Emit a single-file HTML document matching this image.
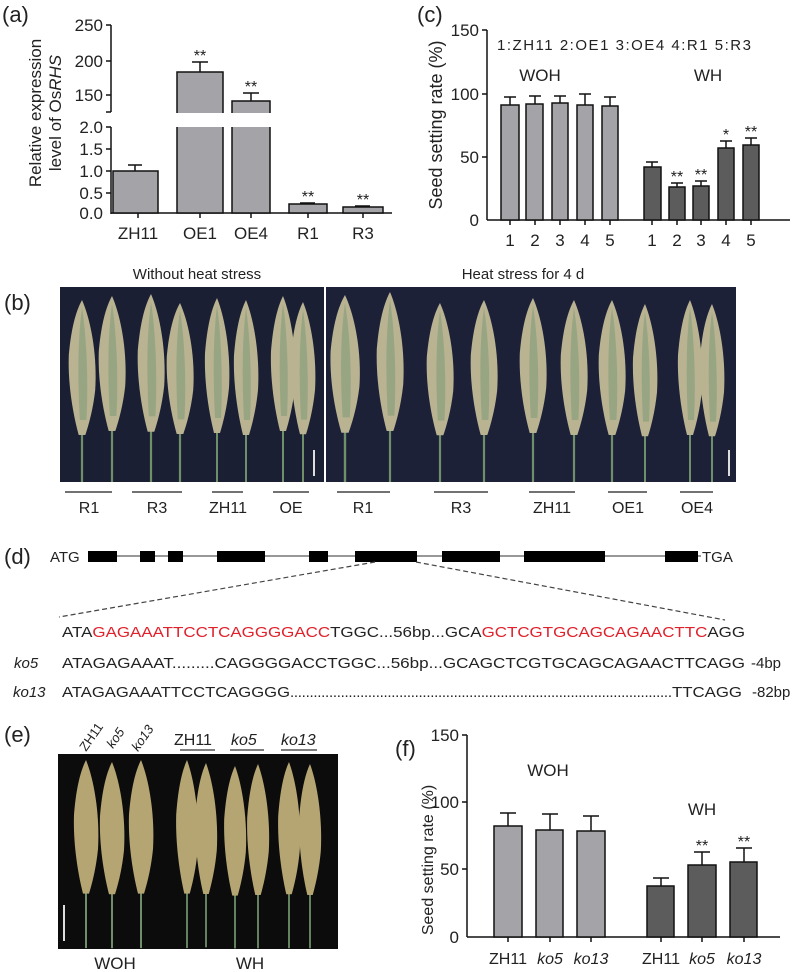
<!DOCTYPE html>
<html><head><meta charset="utf-8"><style>
html,body{margin:0;padding:0;background:#fff}
svg{display:block}
text{font-family:"Liberation Sans",Arial,sans-serif;fill:#222}
</style></head><body>
<svg width="800" height="972" viewBox="0 0 800 972" xmlns="http://www.w3.org/2000/svg">
<defs>
<g id="pan2">
<line x1="0" y1="110" x2="0" y2="190" stroke="#6f8f6a" stroke-width="2"/>
<path d="M0,0 C8,20 14,55 12,90 C10,110 6,125 3,135 L-3,135 C-8,115 -13,85 -12,55 C-10,30 -6,12 0,0Z" fill="#b5a572"/>
</g>
<g id="pan3">
<line x1="0" y1="100" x2="0" y2="200" stroke="#6f8f6a" stroke-width="2"/>
<path d="M0,0 C8,20 14,55 12,90 C10,110 6,125 3,135 L-3,135 C-8,115 -13,85 -12,55 C-10,30 -6,12 0,0Z" fill="#b9b392"/>
<path d="M0,8 C4,35 6,80 4,120 L-2,120 C-4,80 -4,40 0,8Z" fill="#98a583"/>
</g>
</defs>

<!-- Panel (a) -->
<text x="2" y="22" font-size="22">(a)</text>
<g stroke="#111" stroke-width="1.5" fill="none">
<line x1="111" y1="25" x2="111" y2="112"/>
<line x1="111" y1="127" x2="111" y2="214"/>
<line x1="111" y1="213" x2="392" y2="213"/>
<line x1="106" y1="25" x2="111" y2="25"/><line x1="106" y1="61" x2="111" y2="61"/><line x1="106" y1="95" x2="111" y2="95"/><line x1="106" y1="112" x2="111" y2="112"/>
<line x1="106" y1="127" x2="111" y2="127"/><line x1="106" y1="149" x2="111" y2="149"/><line x1="106" y1="171" x2="111" y2="171"/><line x1="106" y1="193" x2="111" y2="193"/>
<line x1="138" y1="213" x2="138" y2="218"/><line x1="200" y1="213" x2="200" y2="218"/><line x1="251" y1="213" x2="251" y2="218"/><line x1="308" y1="213" x2="308" y2="218"/><line x1="363" y1="213" x2="363" y2="218"/>
</g>
<g fill="#a4a4a8" stroke="#111" stroke-width="1.5">
<rect x="113" y="171" width="45" height="42"/>
<rect x="177" y="72" width="46" height="141"/>
<rect x="232" y="101" width="38" height="112"/>
<rect x="289" y="204" width="38" height="9"/>
<rect x="343" y="207" width="40" height="6"/>
</g>
<rect x="170" y="113" width="110" height="14" fill="#fff"/>
<g stroke="#111" stroke-width="1.5">
<line x1="135" y1="171" x2="135" y2="165"/><line x1="128" y1="165" x2="142" y2="165"/>
<line x1="200" y1="72" x2="200" y2="62"/><line x1="192" y1="62" x2="208" y2="62"/>
<line x1="251" y1="101" x2="251" y2="93"/><line x1="243" y1="93" x2="259" y2="93"/>
<line x1="300" y1="203" x2="315" y2="203"/><line x1="355" y1="206" x2="370" y2="206"/>
</g>
<g font-size="16" text-anchor="middle">
<text x="200" y="61" fill="#777">**</text><text x="251" y="92" fill="#777">**</text><text x="308" y="202" fill="#777">**</text><text x="363" y="205" fill="#777">**</text>
</g>
<g font-size="17" text-anchor="end">
<text x="103" y="31">250</text><text x="103" y="67">200</text><text x="103" y="101">150</text>
<text x="103" y="133">2.0</text><text x="103" y="155">1.5</text><text x="103" y="177">1.0</text><text x="103" y="199">0.5</text><text x="103" y="219">0.0</text>
</g>
<g font-size="17" text-anchor="middle">
<text x="138" y="239">ZH11</text><text x="200" y="239">OE1</text><text x="251" y="239">OE4</text><text x="308" y="239">R1</text><text x="363" y="239">R3</text>
</g>
<text transform="translate(41,113) rotate(-90)" font-size="17" text-anchor="middle">Relative  expression</text>
<text transform="translate(61,113) rotate(-90)" font-size="17" text-anchor="middle">level of Os<tspan font-style="italic">RHS</tspan></text>

<!-- Panel (c) -->
<text x="417" y="22" font-size="22">(c)</text>
<g stroke="#111" stroke-width="1.5">
<line x1="487" y1="30" x2="487" y2="220"/>
<line x1="487" y1="220" x2="790" y2="220"/>
<line x1="482" y1="30" x2="487" y2="30"/><line x1="482" y1="94" x2="487" y2="94"/><line x1="482" y1="157" x2="487" y2="157"/>
<line x1="510" y1="220" x2="510" y2="225"/><line x1="535" y1="220" x2="535" y2="225"/><line x1="560" y1="220" x2="560" y2="225"/><line x1="585" y1="220" x2="585" y2="225"/><line x1="610" y1="220" x2="610" y2="225"/>
<line x1="652" y1="220" x2="652" y2="225"/><line x1="677" y1="220" x2="677" y2="225"/><line x1="701" y1="220" x2="701" y2="225"/><line x1="726" y1="220" x2="726" y2="225"/><line x1="751" y1="220" x2="751" y2="225"/>
</g>
<g fill="#a4a4a8" stroke="#111" stroke-width="1.5">
<rect x="501" y="105" width="18" height="115"/><rect x="526" y="104" width="17" height="116"/><rect x="552" y="103" width="16" height="117"/><rect x="577" y="105" width="16" height="115"/><rect x="602" y="106" width="16" height="114"/>
</g>
<g fill="#5c5c5c" stroke="#111" stroke-width="1.5">
<rect x="644" y="167" width="17" height="53"/><rect x="669" y="187" width="16" height="33"/><rect x="693" y="186" width="16" height="34"/><rect x="718" y="148" width="16" height="72"/><rect x="743" y="145" width="16" height="75"/>
</g>
<g stroke="#111" stroke-width="1.5">
<line x1="510" y1="105" x2="510" y2="97"/><line x1="504" y1="97" x2="516" y2="97"/>
<line x1="535" y1="104" x2="535" y2="96"/><line x1="529" y1="96" x2="541" y2="96"/>
<line x1="560" y1="103" x2="560" y2="96"/><line x1="554" y1="96" x2="566" y2="96"/>
<line x1="585" y1="105" x2="585" y2="94"/><line x1="579" y1="94" x2="591" y2="94"/>
<line x1="610" y1="106" x2="610" y2="97"/><line x1="604" y1="97" x2="616" y2="97"/>
<line x1="652" y1="167" x2="652" y2="162"/><line x1="646" y1="162" x2="658" y2="162"/>
<line x1="677" y1="187" x2="677" y2="183"/><line x1="671" y1="183" x2="683" y2="183"/>
<line x1="701" y1="186" x2="701" y2="181"/><line x1="695" y1="181" x2="707" y2="181"/>
<line x1="726" y1="148" x2="726" y2="141"/><line x1="720" y1="141" x2="732" y2="141"/>
<line x1="751" y1="145" x2="751" y2="138"/><line x1="745" y1="138" x2="757" y2="138"/>
</g>
<g font-size="16" text-anchor="middle">
<text x="677" y="182" fill="#777">**</text><text x="701" y="180" fill="#777">**</text><text x="726" y="140" fill="#777">*</text><text x="751" y="137" fill="#777">**</text>
</g>
<g font-size="17" text-anchor="end">
<text x="479" y="36">150</text><text x="479" y="100">100</text><text x="479" y="163">50</text><text x="479" y="226">0</text>
</g>
<g font-size="17" text-anchor="middle">
<text x="510" y="246">1</text><text x="535" y="246">2</text><text x="560" y="246">3</text><text x="585" y="246">4</text><text x="610" y="246">5</text>
<text x="652" y="246">1</text><text x="677" y="246">2</text><text x="701" y="246">3</text><text x="726" y="246">4</text><text x="751" y="246">5</text>
</g>
<text x="497" y="50" font-size="15" textLength="254">1:ZH11  2:OE1  3:OE4  4:R1  5:R3</text>
<text x="540" y="81" font-size="17" text-anchor="middle">WOH</text>
<text x="708" y="81" font-size="17" text-anchor="middle">WH</text>
<text transform="translate(442,125) rotate(-90)" font-size="18" text-anchor="middle">Seed setting rate (%)</text>

<!-- Panel (b) -->
<text x="4" y="310" font-size="22">(b)</text>
<text x="197" y="279" font-size="15" text-anchor="middle">Without heat stress</text>
<text x="523" y="279" font-size="15" text-anchor="middle">Heat stress for 4 d</text>
<rect x="60" y="287" width="264" height="195" fill="#1b1f33"/>
<rect x="326" y="287" width="410" height="195" fill="#1c2138"/>
<rect x="324" y="287" width="2" height="195" fill="#fff"/>
<svg x="60" y="287" width="676" height="195" viewBox="60 287 676 195" overflow="hidden">
<use href="#pan3" transform="translate(82,300) scale(1.1,1)"/>
<use href="#pan3" transform="translate(112,296) scale(1.1,1)"/>
<use href="#pan3" transform="translate(151,294) scale(1.1,1.02)"/>
<use href="#pan3" transform="translate(180,303) scale(1.1,0.97)"/>
<use href="#pan3" transform="translate(217,298) scale(1,1)"/>
<use href="#pan3" transform="translate(246,300) scale(1,1)"/>
<use href="#pan3" transform="translate(283,296) scale(1,1)"/>
<use href="#pan3" transform="translate(303,302) scale(1,0.98)"/>
<use href="#pan3" transform="translate(345,295) scale(1.2,1.02)"/>
<use href="#pan3" transform="translate(390,292) scale(1.1,1.03)"/>
<use href="#pan3" transform="translate(440,303) scale(1.1,0.98)"/>
<use href="#pan3" transform="translate(484,300) scale(1.1,1)"/>
<use href="#pan3" transform="translate(533,298) scale(1.1,1)"/>
<use href="#pan3" transform="translate(574,300) scale(1.1,1)"/>
<use href="#pan3" transform="translate(612,300) scale(1.1,1)"/>
<use href="#pan3" transform="translate(645,304) scale(1,0.98)"/>
<use href="#pan3" transform="translate(690,300) scale(1,1)"/>
<use href="#pan3" transform="translate(712,304) scale(1,0.98)"/>
</svg>
<rect x="313" y="450" width="2" height="26" fill="#ddd"/>
<rect x="728" y="450" width="2" height="26" fill="#ddd"/>
<g stroke="#444" stroke-width="1.5">
<line x1="65" y1="492" x2="112" y2="492"/><line x1="132" y1="492" x2="182" y2="492"/><line x1="212" y1="492" x2="243" y2="492"/><line x1="273" y1="492" x2="309" y2="492"/>
<line x1="337" y1="492" x2="390" y2="492"/><line x1="434" y1="492" x2="488" y2="492"/><line x1="529" y1="492" x2="575" y2="492"/><line x1="608" y1="492" x2="647" y2="492"/><line x1="680" y1="492" x2="713" y2="492"/>
</g>
<g font-size="16" text-anchor="middle">
<text x="89" y="513">R1</text><text x="157" y="513">R3</text><text x="228" y="513">ZH11</text><text x="291" y="513">OE</text>
<text x="363" y="513">R1</text><text x="461" y="513">R3</text><text x="552" y="513">ZH11</text><text x="628" y="513">OE1</text><text x="697" y="513">OE4</text>
</g>

<!-- Panel (d) -->
<text x="4" y="564" font-size="22">(d)</text>
<text x="50" y="562" font-size="15">ATG</text>
<text x="702" y="562" font-size="15">TGA</text>
<line x1="88" y1="556" x2="701" y2="556" stroke="#777" stroke-width="1.5"/>
<g fill="#000">
<rect x="88" y="551" width="29" height="11"/><rect x="140" y="551" width="15" height="11"/><rect x="168" y="551" width="15" height="11"/><rect x="217" y="551" width="48" height="11"/><rect x="309" y="551" width="19" height="11"/><rect x="355" y="551" width="62" height="11"/><rect x="442" y="551" width="58" height="11"/><rect x="524" y="551" width="81" height="11"/><rect x="665" y="551" width="33" height="11"/>
</g>
<g stroke="#444" stroke-width="1.2" stroke-dasharray="5,3">
<line x1="375" y1="562" x2="59" y2="617"/><line x1="416" y1="562" x2="725" y2="620"/>
</g>
<text x="62" y="637" font-size="15" textLength="683" lengthAdjust="spacingAndGlyphs">ATA<tspan fill="#e0202a">GAGAAATTCCTCAGGGGACC</tspan>TGGC...56bp...GCA<tspan fill="#e0202a">GCTCGTGCAGCAGAACTTC</tspan>AGG</text>
<text x="14" y="668" font-size="15" font-style="italic">ko5</text>
<text x="62" y="668" font-size="15" textLength="683" lengthAdjust="spacingAndGlyphs">ATAGAGAAAT.........CAGGGGACCTGGC...56bp...GCAGCTCGTGCAGCAGAACTTCAGG</text>
<text x="751" y="668" font-size="15">-4bp</text>
<text x="13" y="697" font-size="15" font-style="italic">ko13</text>
<text x="62" y="697" font-size="15" textLength="228" lengthAdjust="spacingAndGlyphs">ATAGAGAAATTCCTCAGGGG</text>
<text x="290" y="697" font-size="15" textLength="382" lengthAdjust="spacing">..................................................................................................</text>
<text x="672" y="697" font-size="15" textLength="70" lengthAdjust="spacingAndGlyphs">TTCAGG</text>
<text x="752" y="697" font-size="15">-82bp</text>

<!-- Panel (e) -->
<text x="4" y="742" font-size="22">(e)</text>
<g font-size="13">
<text transform="translate(86,752) rotate(-55)">ZH11</text>
<text transform="translate(113,749) rotate(-55)" font-style="italic">ko5</text>
<text transform="translate(138,752) rotate(-55)" font-style="italic">ko13</text>
</g>
<g font-size="16">
<text x="174" y="745">ZH11</text><text x="231" y="745" font-style="italic">ko5</text><text x="281" y="745" font-style="italic">ko13</text>
</g>
<g stroke="#333" stroke-width="1.2">
<line x1="180" y1="750" x2="215" y2="750"/><line x1="230" y1="750" x2="264" y2="750"/><line x1="281" y1="750" x2="317" y2="750"/>
</g>
<rect x="58" y="754" width="280" height="195" fill="#0c0c0c"/>
<g>
<use href="#pan2" transform="translate(86,760) scale(1,0.99)"/>
<use href="#pan2" transform="translate(112,762) scale(1,0.98)"/>
<use href="#pan2" transform="translate(141,760) scale(1,0.99)"/>
<use href="#pan2" transform="translate(187,760) scale(0.9,0.99)"/>
<use href="#pan2" transform="translate(206,763) scale(0.9,0.97)"/>
<use href="#pan2" transform="translate(235,766) scale(0.9,0.96)"/>
<use href="#pan2" transform="translate(258,764) scale(0.9,0.97)"/>
<use href="#pan2" transform="translate(289,762) scale(0.9,0.98)"/>
<use href="#pan2" transform="translate(310,764) scale(0.9,0.97)"/>
</g>
<rect x="63" y="905" width="2" height="36" fill="#ddd"/>
<text x="115" y="969" font-size="17" text-anchor="middle">WOH</text>
<text x="250" y="969" font-size="17" text-anchor="middle">WH</text>

<!-- Panel (f) -->
<text x="395" y="756" font-size="22">(f)</text>
<g stroke="#111" stroke-width="1.5">
<line x1="467" y1="735" x2="467" y2="937"/>
<line x1="467" y1="937" x2="780" y2="937"/>
<line x1="462" y1="735" x2="467" y2="735"/><line x1="462" y1="802" x2="467" y2="802"/><line x1="462" y1="869" x2="467" y2="869"/>
<line x1="508" y1="937" x2="508" y2="942"/><line x1="550" y1="937" x2="550" y2="942"/><line x1="591" y1="937" x2="591" y2="942"/>
<line x1="661" y1="937" x2="661" y2="942"/><line x1="702" y1="937" x2="702" y2="942"/><line x1="744" y1="937" x2="744" y2="942"/>
</g>
<g fill="#a4a4a8" stroke="#111" stroke-width="1.5">
<rect x="494" y="826" width="28" height="111"/><rect x="536" y="830" width="27" height="107"/><rect x="577" y="831" width="28" height="106"/>
</g>
<g fill="#5c5c5c" stroke="#111" stroke-width="1.5">
<rect x="647" y="886" width="27" height="51"/><rect x="688" y="865" width="28" height="72"/><rect x="730" y="862" width="27" height="75"/>
</g>
<g stroke="#111" stroke-width="1.5">
<line x1="508" y1="826" x2="508" y2="813"/><line x1="500" y1="813" x2="516" y2="813"/>
<line x1="550" y1="830" x2="550" y2="814"/><line x1="542" y1="814" x2="558" y2="814"/>
<line x1="591" y1="831" x2="591" y2="816"/><line x1="583" y1="816" x2="599" y2="816"/>
<line x1="661" y1="886" x2="661" y2="878"/><line x1="653" y1="878" x2="669" y2="878"/>
<line x1="702" y1="865" x2="702" y2="852"/><line x1="694" y1="852" x2="710" y2="852"/>
<line x1="744" y1="862" x2="744" y2="848"/><line x1="736" y1="848" x2="752" y2="848"/>
</g>
<g font-size="16" text-anchor="middle">
<text x="702" y="851" fill="#777">**</text><text x="744" y="847" fill="#777">**</text>
</g>
<g font-size="17" text-anchor="end">
<text x="459" y="741">150</text><text x="459" y="808">100</text><text x="459" y="875">50</text><text x="459" y="943">0</text>
</g>
<g font-size="16" text-anchor="middle">
<text x="508" y="964">ZH11</text><text x="550" y="964" font-style="italic">ko5</text><text x="591" y="964" font-style="italic">ko13</text>
<text x="661" y="964">ZH11</text><text x="702" y="964" font-style="italic">ko5</text><text x="744" y="964" font-style="italic">ko13</text>
</g>
<text x="548" y="776" font-size="17" text-anchor="middle">WOH</text>
<text x="702" y="815" font-size="17" text-anchor="middle">WH</text>
<text transform="translate(433,860) rotate(-90)" font-size="16" text-anchor="middle">Seed setting rate (%)</text>
</svg>
</body></html>
